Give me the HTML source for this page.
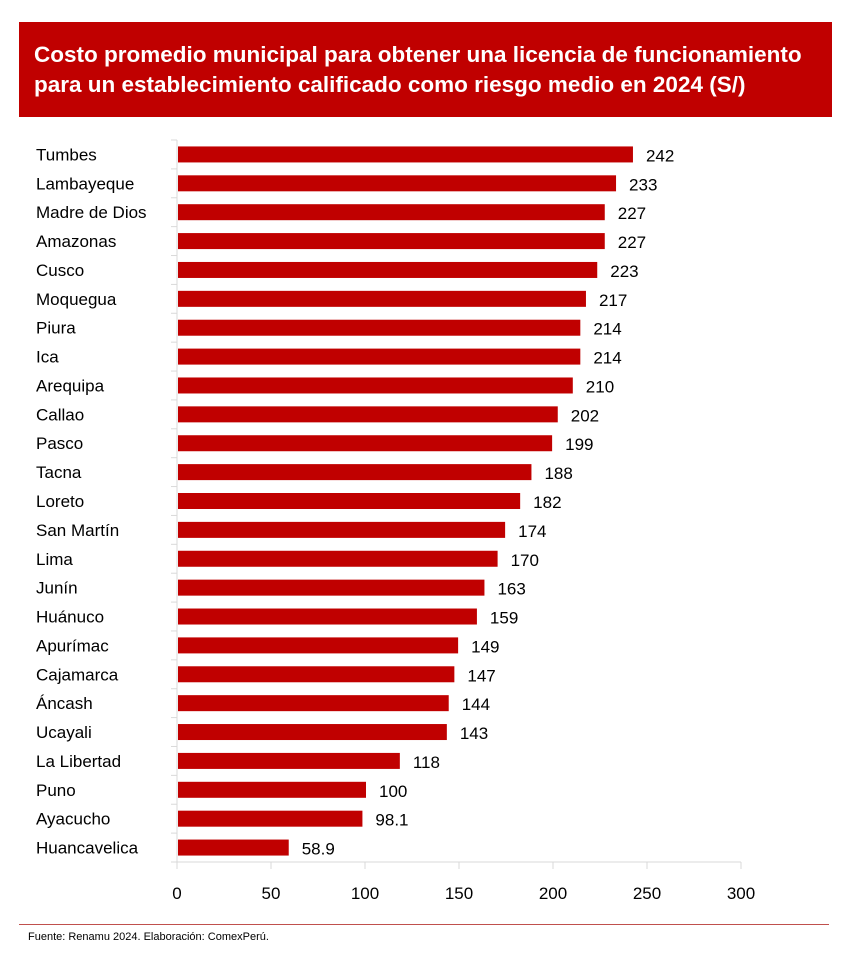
<!DOCTYPE html>
<html><head><meta charset="utf-8"><style>
body{margin:0;background:#fff;width:854px;height:961px;overflow:hidden;font-family:"Liberation Sans",sans-serif}
#hdr{position:absolute;left:19px;top:22px;width:813px;height:95px;background:#c00000;color:#fff;font-weight:bold;font-size:22.5px;line-height:30px;box-sizing:border-box;padding:18px 0 0 15px;white-space:nowrap}
#foot{position:absolute;left:28px;top:931px;font-size:11px;color:#000}
#fline{position:absolute;left:19px;top:924px;width:810px;height:1px;background:#c0504d}
</style></head><body>
<div id="hdr">Costo promedio municipal para obtener una licencia de funcionamiento<br>para un establecimiento calificado como riesgo medio en 2024 (S/)</div>
<svg id="chart" width="854" height="961" style="position:absolute;left:0;top:0"></svg>
<div id="fline"></div>
<div id="foot">Fuente: Renamu 2024. Elaboración: ComexPerú.</div>
<script>
const categories=["Tumbes","Lambayeque","Madre de Dios","Amazonas","Cusco","Moquegua","Piura","Ica","Arequipa","Callao","Pasco","Tacna","Loreto","San Martín","Lima","Junín","Huánuco","Apurímac","Cajamarca","Áncash","Ucayali","La Libertad","Puno","Ayacucho","Huancavelica"];
const values=[242,233,227,227,223,217,214,214,210,202,199,188,182,174,170,163,159,149,147,144,143,118,100,98.1,58.9];
const labels=["242","233","227","227","223","217","214","214","210","202","199","188","182","174","170","163","159","149","147","144","143","118","100","98.1","58.9"];
const ticks=[0,50,100,150,200,250,300];
const svg=document.getElementById('chart');const NS="http://www.w3.org/2000/svg";
const x0=177,x1=741,yTop=140,yBot=862,maxV=300;
const x=v=>x0+(v/maxV)*(x1-x0);
const band=(yBot-yTop)/categories.length;
const y=i=>yTop+band*i+band/2;
function mk(t,a){const e=document.createElementNS(NS,t);for(const k in a)e.setAttribute(k,a[k]);svg.appendChild(e);return e;}
let e;
e=mk('line',{x1:x0,y1:yBot,x2:x1,y2:yBot,stroke:'#d9d9d9','stroke-width':1});


e=mk('line',{x1:x0,y1:yTop,x2:x0,y2:yBot,stroke:'#d9d9d9','stroke-width':1});


for(let i=0;i<=categories.length;i++){const yy=yTop+band*i;mk('line',{x1:x0-6,y1:yy,x2:x0,y2:yy,stroke:'#d9d9d9'});}
ticks.forEach(t=>{mk('line',{x1:x(t),y1:yBot,x2:x(t),y2:yBot+7,stroke:'#d9d9d9'});
e=mk('text',{x:x(t),y:yBot+37,'text-anchor':'middle','font-size':17,fill:'#000'});e.textContent=t;

});
categories.forEach((c,i)=>{
e=mk('rect',{x:x0+1,y:y(i)-8,width:x(values[i])-x0,height:16,fill:'#c00000'});


e=mk('text',{x:36,y:y(i)+6,'font-size':17,fill:'#000'});e.textContent=c;


e=mk('text',{x:x(values[i])+14,y:y(i)+7,'font-size':17,fill:'#000'});e.textContent=labels[i];


});
</script>
</body></html>
